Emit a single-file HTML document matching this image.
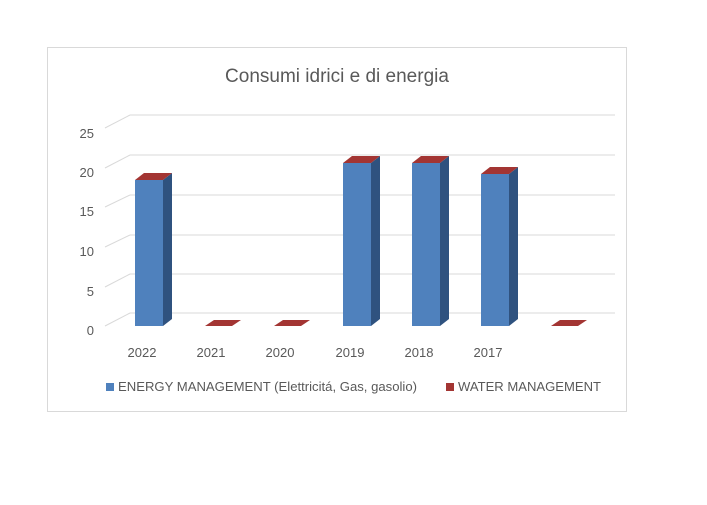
<!DOCTYPE html><html><head><style>body{margin:0;background:#fff}svg text{font-family:"Liberation Sans",sans-serif;fill:#595959}</style></head><body>
<svg width="707" height="500" xmlns="http://www.w3.org/2000/svg">
<rect x="47.5" y="47.5" width="579" height="364" fill="#fff" stroke="#d9d9d9"/>
<text x="337" y="82" font-size="19" text-anchor="middle">Consumi idrici e di energia</text>
<g stroke="#d9d9d9" stroke-width="1" fill="none">
<path d="M130 115H615M130 155H615M130 195H615M130 235H615M130 274H615M130 313H615"/>
<path d="M105 128L130 115M105 168L130 155M105 207L130 195M105 247L130 235M105 287L130 274M105 326L130 313"/>
</g>
<g font-size="13">
<text x="94" y="138" text-anchor="end">25</text><text x="94" y="177" text-anchor="end">20</text><text x="94" y="216" text-anchor="end">15</text><text x="94" y="256" text-anchor="end">10</text><text x="94" y="296" text-anchor="end">5</text><text x="94" y="335" text-anchor="end">0</text>
<text x="142" y="357" text-anchor="middle">2022</text><text x="211" y="357" text-anchor="middle">2021</text><text x="280" y="357" text-anchor="middle">2020</text><text x="350" y="357" text-anchor="middle">2019</text><text x="419" y="357" text-anchor="middle">2018</text><text x="488" y="357" text-anchor="middle">2017</text>
</g>
<g>
<rect x="135" y="180" width="28" height="146" fill="#4f81bd"/><path d="M163 180L172 173V319L163 326Z" fill="#2f527f"/><path d="M135 180L144 173H172L163 180Z" fill="#a33533"/>
<rect x="343" y="163" width="28" height="163" fill="#4f81bd"/><path d="M371 163L380 156V319L371 326Z" fill="#2f527f"/><path d="M343 163L352 156H380L371 163Z" fill="#a33533"/>
<rect x="412" y="163" width="28" height="163" fill="#4f81bd"/><path d="M440 163L449 156V319L440 326Z" fill="#2f527f"/><path d="M412 163L421 156H449L440 163Z" fill="#a33533"/>
<rect x="481" y="174" width="28" height="152" fill="#4f81bd"/><path d="M509 174L518 167V319L509 326Z" fill="#2f527f"/><path d="M481 174L490 167H518L509 174Z" fill="#a33533"/>
<path d="M205 326L214 320H241L232 326Z" fill="#a33533"/>
<path d="M274 326L283 320H310L301 326Z" fill="#a33533"/>
<path d="M551 326L560 320H587L578 326Z" fill="#a33533"/>
</g>
<rect x="106" y="383" width="8" height="8" fill="#4f81bd"/>
<text x="118" y="391" font-size="13" textLength="299" lengthAdjust="spacingAndGlyphs">ENERGY MANAGEMENT (Elettricitá, Gas, gasolio)</text>
<rect x="446" y="383" width="8" height="8" fill="#a33533"/>
<text x="458" y="391" font-size="13" textLength="143" lengthAdjust="spacingAndGlyphs">WATER MANAGEMENT</text>
</svg></body></html>
